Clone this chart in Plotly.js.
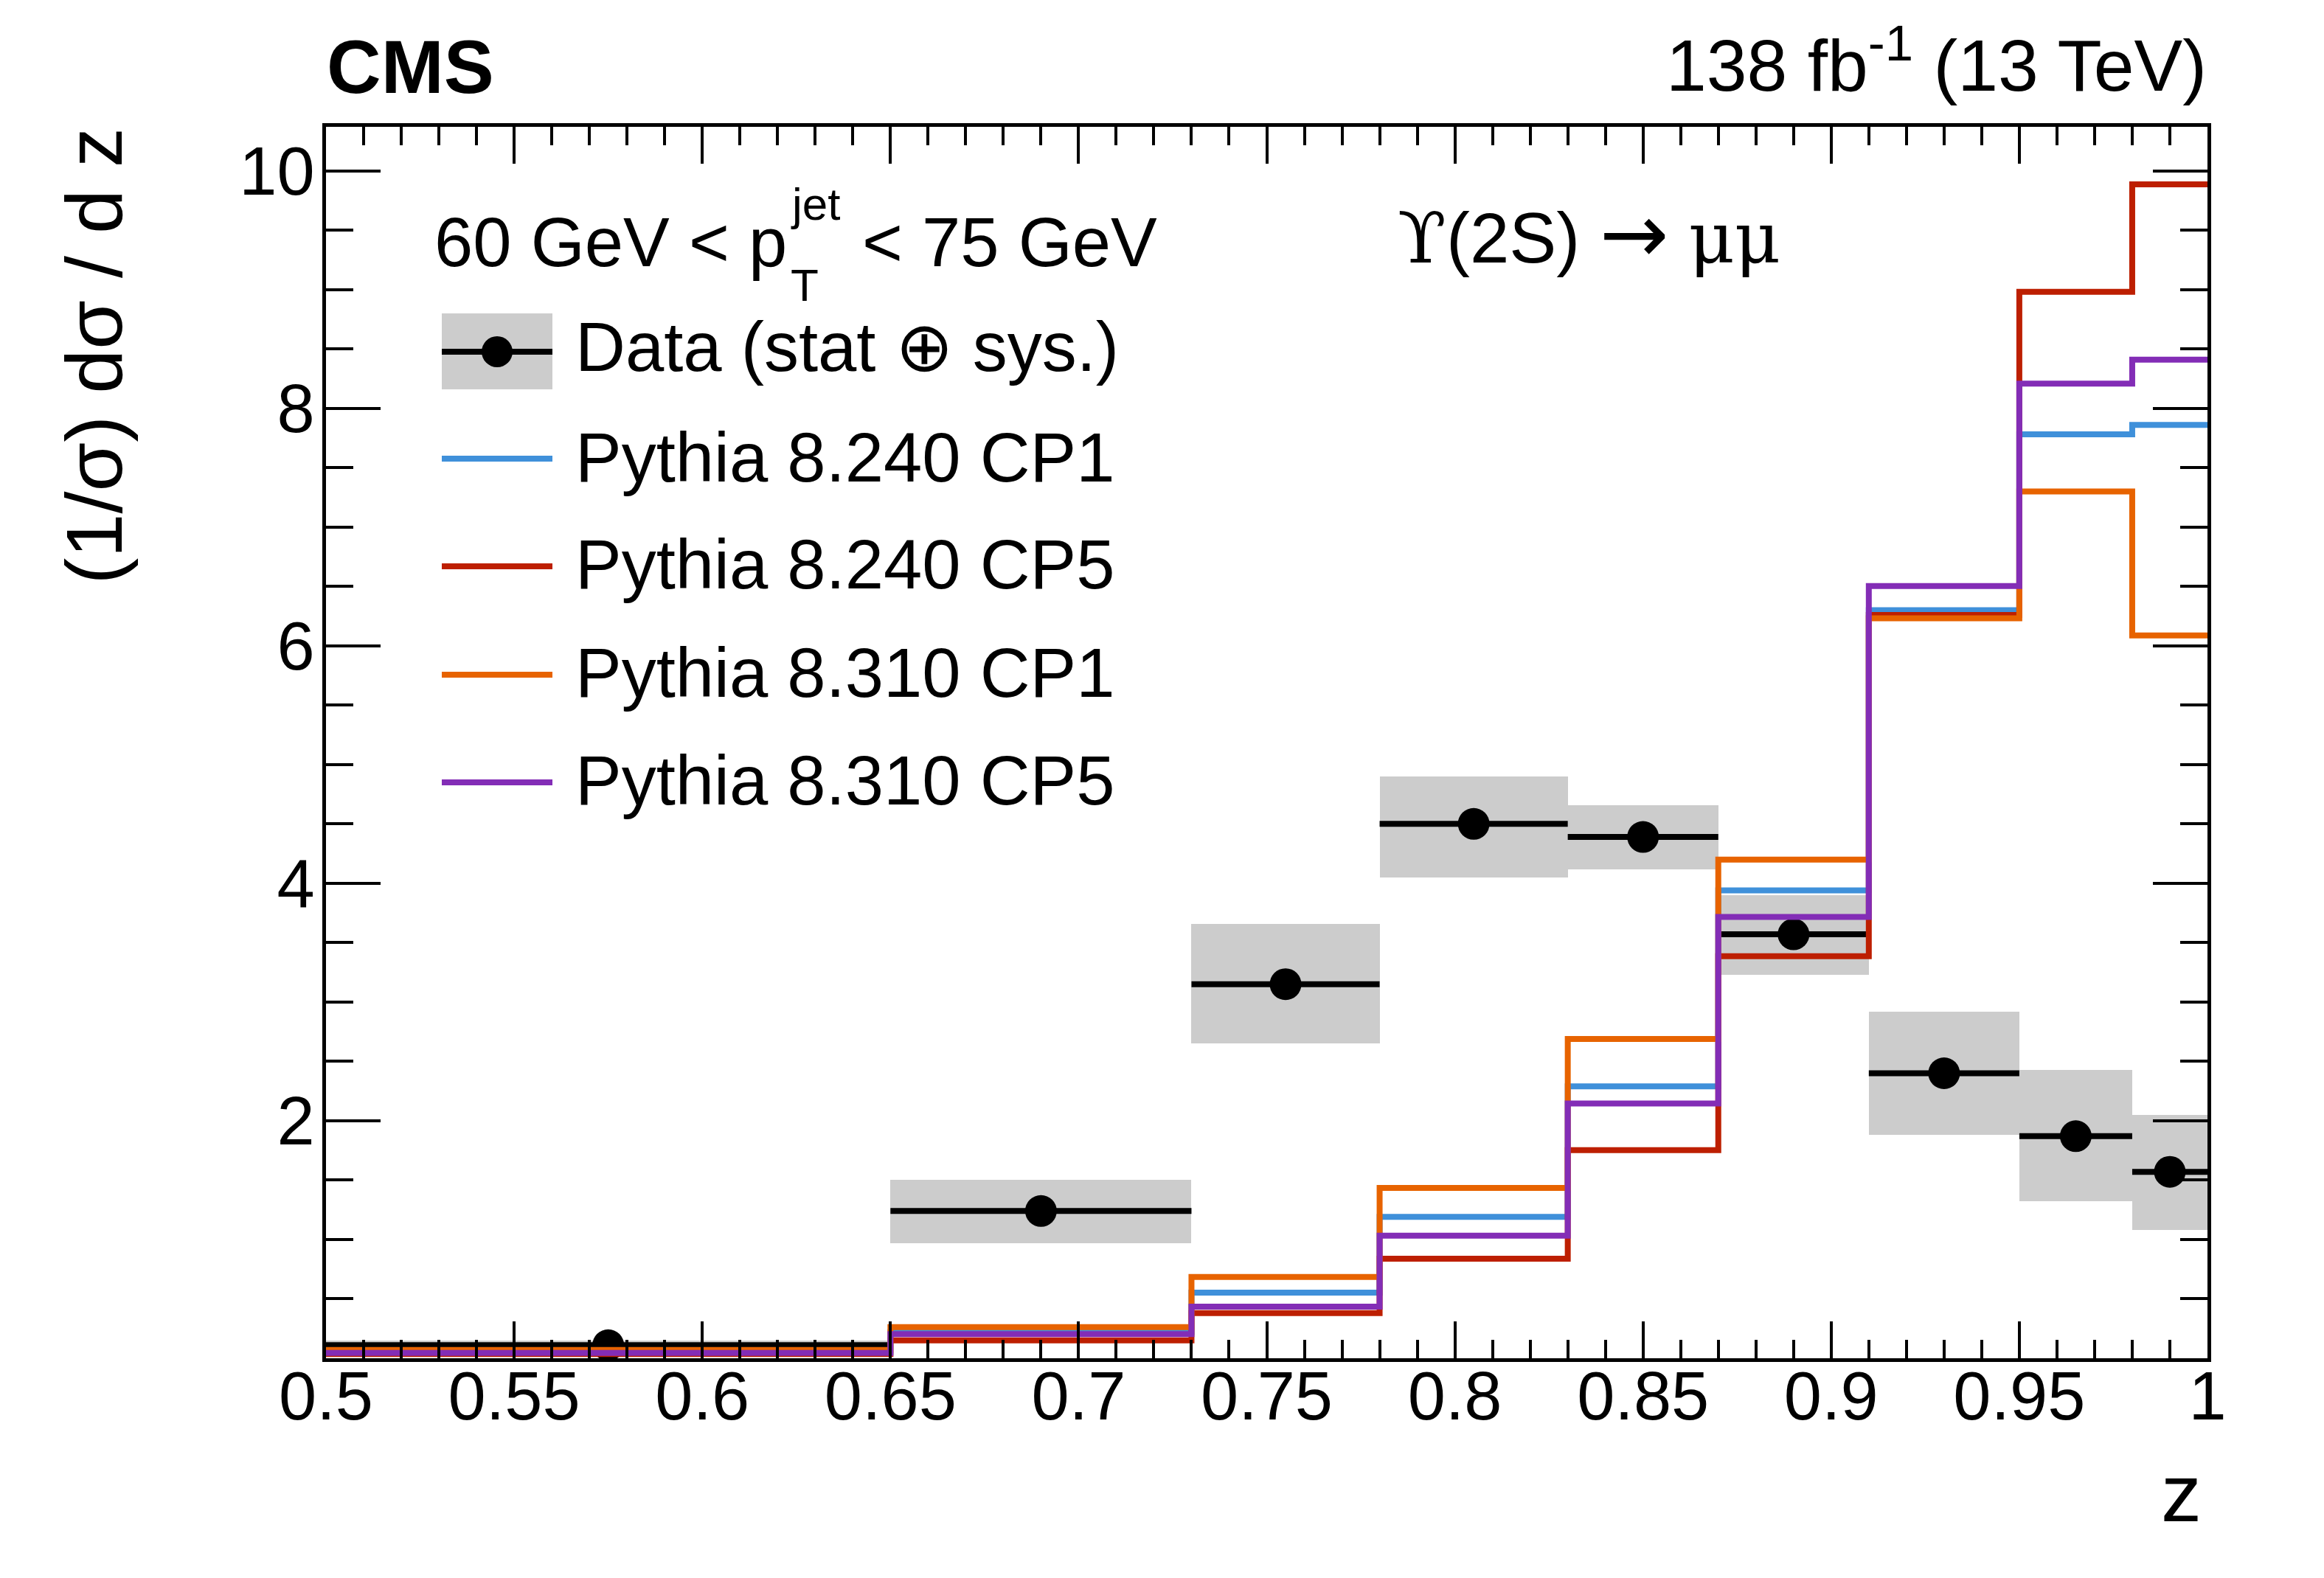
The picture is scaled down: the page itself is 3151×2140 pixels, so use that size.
<!DOCTYPE html>
<html>
<head>
<meta charset="utf-8">
<script src="https://cdn.plot.ly/plotly-3.0.1.min.js"></script>
<style>
  html, body { margin: 0; padding: 0; background: #fff; }
  #chart { width: 3151px; height: 2140px; }
</style>
</head>
<body>
<div id="chart"></div>
<script>
// bin edges in z and the measured values per bin
var edges = [0.5, 0.65, 0.73, 0.78, 0.83, 0.87, 0.91, 0.95, 0.98, 1.0];

var dataVal = [0.11, 1.24, 3.15, 4.50, 4.39, 3.57, 2.40, 1.87, 1.57];
var bandLo  = [0.07, 0.97, 2.65, 4.05, 4.12, 3.23, 1.88, 1.32, 1.08];
var bandHi  = [0.15, 1.50, 3.66, 4.90, 4.66, 3.90, 2.92, 2.43, 2.05];

var py240cp1 = [0.055, 0.22, 0.553, 1.19, 2.29, 3.94, 6.30, 7.78, 7.86];
var py240cp5 = [0.035, 0.15, 0.381, 0.838, 1.753, 3.385, 6.26, 8.98, 9.885];
var py310cp1 = [0.07, 0.263, 0.684, 1.434, 2.689, 4.20, 6.232, 7.30, 6.087];
var py310cp5 = [0.045, 0.204, 0.435, 1.033, 2.146, 3.716, 6.503, 8.208, 8.41];

var xTicks = [0.5, 0.55, 0.6, 0.65, 0.7, 0.75, 0.8, 0.85, 0.9, 0.95, 1];
var yTicks = [2, 4, 6, 8, 10];

var colBlue = '#3f90da';
var colRed = '#bd1f01';
var colOrange = '#e76300';
var colPurple = '#832db6';
var colBand = '#cccccc';
var FONT = 'Liberation Sans, Arial, Helvetica, sans-serif';

// bin centres and half widths from the edges
var centers = [];
var widths = [];
var halfW = [];
for (let i = 0; i < edges.length - 1; i++) {
  centers.push((edges[i] + edges[i+1]) / 2);
  widths.push(edges[i+1] - edges[i]);
  halfW.push((edges[i+1] - edges[i]) / 2);
}
var bandH = bandHi.map(function(v, i) { return v - bandLo[i]; });

function stepTrace(vals, color, name) {
  return {
    x: edges,
    y: vals.concat([vals[vals.length-1]]),
    mode: 'lines',
    type: 'scatter',
    name: name,
    line: {shape: 'hv', color: color, width: 8},
    hoverinfo: 'skip'
  };
}

var traceBand = {
  x: centers,
  y: bandH,
  base: bandLo,
  width: widths,
  type: 'bar',
  marker: {color: colBand, line: {width: 0}},
  hoverinfo: 'skip'
};

var traceData = {
  x: centers,
  y: dataVal,
  mode: 'markers',
  type: 'scatter',
  marker: {color: 'black', size: 43},
  error_x: {type: 'data', array: halfW, thickness: 8, width: 0, color: 'black'},
  cliponaxis: false
};

var data = [
  traceBand,
  traceData,
  stepTrace(py240cp1, colBlue, 'Pythia 8.240 CP1'),
  stepTrace(py240cp5, colRed, 'Pythia 8.240 CP5'),
  stepTrace(py310cp1, colOrange, 'Pythia 8.310 CP1'),
  stepTrace(py310cp5, colPurple, 'Pythia 8.310 CP5')
];

// plot frame in pixels, to place the texts and the legend
var PL = 442, PR = 2993, PT = 172, PB = 1842;
function fx(px) { return (px - PL) / (PR - PL); }
function fy(py) { return (PB - py) / (PB - PT); }

function txt(text, px, py, size, xanchor, extra) {
  var a = {
    text: text, xref: 'paper', yref: 'paper',
    x: fx(px), y: fy(py), xanchor: xanchor, yanchor: 'middle',
    showarrow: false, font: {family: FONT, size: size, color: 'black'}
  };
  for (var k in extra) a[k] = extra[k];
  return a;
}

var serif = '<span style="font-family:DejaVu Serif">';
var annotations = [
  txt('<b>CMS</b>', 441, 91, 102, 'left'),
  txt('138 fb<sup>-1</sup> (13 TeV)', 2994, 82, 98.5, 'right'),
  txt('60 GeV < p', 587, 328, 94, 'left'),
  txt('jet', 1070, 276, 62, 'left'),
  txt('T', 1070, 387, 62, 'left'),
  txt('< 75 GeV', 1167, 328, 94, 'left'),
  txt(serif + 'ϒ</span>(2S) <span style="font-family:DejaVu Sans;font-size:112px">→</span> ' + serif + 'μμ</span>', 1893, 317, 96, 'left'),
  txt('Data (stat ⊕ sys.)', 778, 471, 94, 'left'),
  txt('Pythia 8.240 CP1', 778, 620, 94, 'left'),
  txt('Pythia 8.240 CP5', 778, 766, 94, 'left'),
  txt('Pythia 8.310 CP1', 778, 912, 94, 'left'),
  txt('Pythia 8.310 CP5', 778, 1058, 94, 'left'),
  txt('z', 2987, 2024, 110, 'right'),
  {
    text: '(1/σ) dσ / d z', xref: 'paper', yref: 'paper',
    x: fx(127), y: 1, xanchor: 'center', yanchor: 'top', textangle: -90,
    showarrow: false, font: {family: FONT, size: 108, color: 'black'}
  }
];

function legLine(py, color) {
  return {type: 'line', xref: 'paper', yref: 'paper',
    x0: fx(599), x1: fx(749), y0: fy(py), y1: fy(py),
    line: {color: color, width: 8}};
}

var shapes = [
  {type: 'rect', xref: 'paper', yref: 'paper',
   x0: fx(599), x1: fx(749), y0: fy(528), y1: fy(425),
   fillcolor: colBand, line: {width: 0}},
  legLine(477, 'black'),
  {type: 'circle', xref: 'paper', yref: 'paper',
   x0: fx(653), x1: fx(695), y0: fy(498), y1: fy(456),
   fillcolor: 'black', line: {width: 0}},
  legLine(622, colBlue),
  legLine(768, colRed),
  legLine(915, colOrange),
  legLine(1061, colPurple)
];

var layout = {
  width: 3151,
  height: 2140,
  autosize: false,
  margin: {l: PL, r: 3151 - PR, t: PT, b: 2140 - PB, pad: 0},
  paper_bgcolor: 'white',
  plot_bgcolor: 'white',
  showlegend: false,
  font: {family: FONT, color: 'black'},
  bargap: 0,
  xaxis: {
    range: [0.5, 1.0],
    tickmode: 'array',
    tickvals: xTicks,
    ticks: 'inside',
    ticklen: 50,
    tickwidth: 4,
    tickcolor: 'black',
    minor: {dtick: 0.01, tick0: 0.5, ticks: 'inside', ticklen: 25, tickwidth: 4, tickcolor: 'black'},
    showline: true,
    linewidth: 5,
    linecolor: 'black',
    mirror: 'ticks',
    showgrid: false,
    zeroline: false,
    tickfont: {family: FONT, size: 92, color: 'black'},
    ticklabelstandoff: -32
  },
  yaxis: {
    range: [0, 10.37],
    tickmode: 'array',
    tickvals: yTicks,
    ticks: 'inside',
    ticklen: 74,
    tickwidth: 4,
    tickcolor: 'black',
    minor: {dtick: 0.5, tick0: 0, ticks: 'inside', ticklen: 37, tickwidth: 4, tickcolor: 'black'},
    showline: true,
    linewidth: 5,
    linecolor: 'black',
    mirror: 'ticks',
    showgrid: false,
    zeroline: false,
    tickfont: {family: FONT, size: 92, color: 'black'},
    ticklabelstandoff: -8
  },
  annotations: annotations,
  shapes: shapes
};

Plotly.newPlot('chart', data, layout, {staticPlot: true, displayModeBar: false});
</script>
</body>
</html>
